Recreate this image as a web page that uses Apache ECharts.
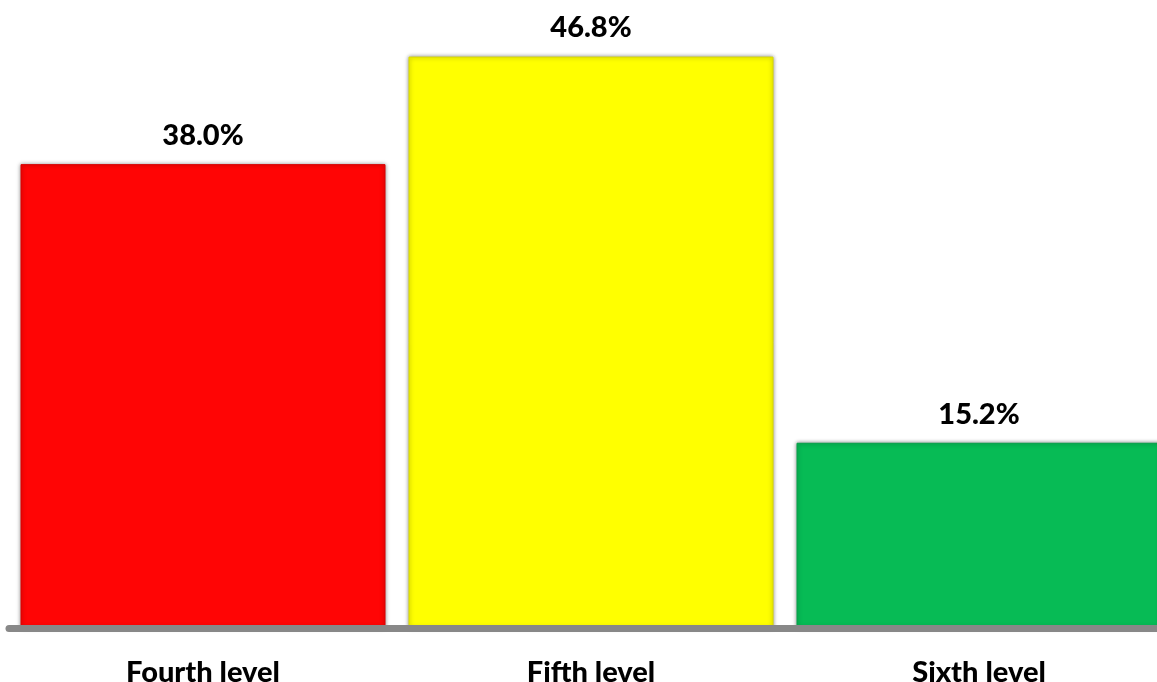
<!DOCTYPE html>
<html lang="en">
<head>
    <meta charset="UTF-8">
    <title>Levels</title>
    <script src="https://cdn.jsdelivr.net/npm/echarts@6.0.0/dist/echarts.min.js"></script>
    <style>
        body { margin: 0; background: #fff; }
    </style>
</head>
<body>
    <div id="main" style="width: 1157px; height: 682px;"></div>
    <script type="text/javascript">
        // Chart data
        const categories = ['Fourth level', 'Fifth level', 'Sixth level'];
        const shares = [38.0, 46.8, 15.2];
        const barColors = ['#ff0505', '#ffff00', '#07bb55'];
        const edgeColors = ['#d80000', '#d8d800', '#04a048'];

        let myChart = echarts.init(document.getElementById('main'));

        let options = {
            // the last bar runs off the right edge, so the grid is wider than the page
            grid: { left: 9, width: 1164, top: 17.5, bottom: 53.5, outerBoundsMode: 'none' },
            xAxis: {
                type: 'category',
                data: categories,
                z: 5,
                axisLine: { lineStyle: { color: '#888888', width: 7 } },
                axisTick: { show: false },
                axisLabel: {
                    margin: 30,
                    color: '#000',
                    fontFamily: 'Lato',
                    fontWeight: 900,
                    fontSize: 29
                }
            },
            yAxis: {
                type: 'value',
                min: 0,
                max: 50,
                show: false,
                splitLine: { show: false }
            },
            series: [{
                type: 'bar',
                barWidth: 365,
                data: shares.map((v, i) => ({
                    value: v,
                    itemStyle: {
                        color: barColors[i],
                        borderColor: edgeColors[i],
                        borderWidth: 1,
                        shadowColor: 'rgba(0,0,0,0.45)',
                        shadowBlur: 4
                    }
                })),
                label: {
                    show: true,
                    position: 'top',
                    distance: 14,
                    color: '#000',
                    fontFamily: 'Lato',
                    fontWeight: 900,
                    fontSize: 29,
                    formatter: (p) => p.value.toFixed(1) + '%'
                }
            }]
        };

        myChart.setOption(options);
    </script>
</body>
</html>
